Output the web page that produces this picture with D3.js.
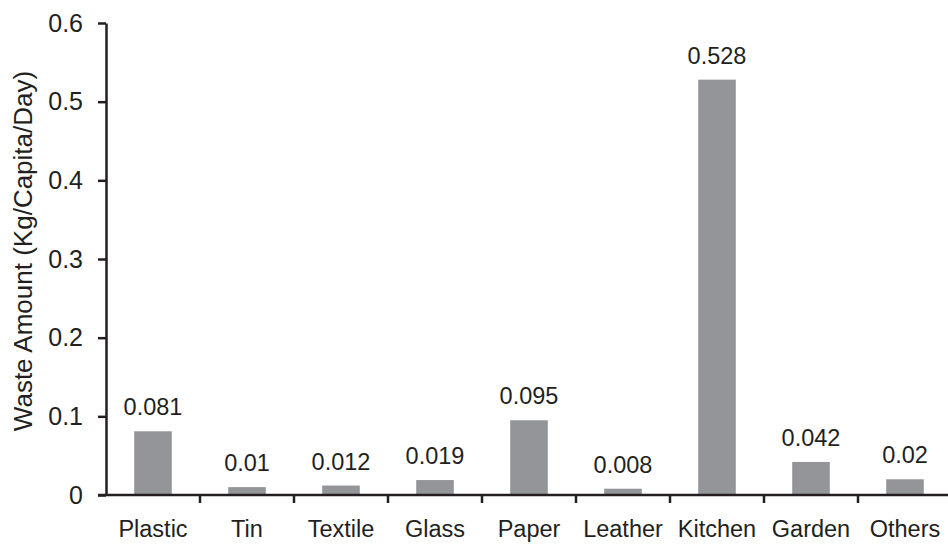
<!DOCTYPE html>
<html>
<head>
<meta charset="utf-8">
<script src="https://cdn.jsdelivr.net/npm/d3@7"></script>
<style>
  html, body { margin: 0; padding: 0; background: #fff; }
  svg { display: block; }
  text { font-family: "Liberation Sans", Arial, sans-serif; fill: #231f20; }
</style>
</head>
<body>
<svg id="chart" width="948" height="545"></svg>
<script>
// Per-capita daily waste by component
const categories = ["Plastic", "Tin", "Textile", "Glass", "Paper", "Leather", "Kitchen", "Garden", "Others"];
const values = [0.081, 0.01, 0.012, 0.019, 0.095, 0.008, 0.528, 0.042, 0.02];
const valueLabels = ["0.081", "0.01", "0.012", "0.019", "0.095", "0.008", "0.528", "0.042", "0.02"];
const yTicks = [0, 0.1, 0.2, 0.3, 0.4, 0.5, 0.6];
const yTitle = "Waste Amount (Kg/Capita/Day)";

(function draw() {
  const svg = d3.select("#chart");
  const m = { left: 106, right: 952, top: 23, bottom: 495 };
  const ink = "#231f20";
  const fs = 23.5;

  const x = d3.scaleBand().domain(categories).range([m.left, m.right]).paddingInner(0.6).paddingOuter(0.3);
  const y = d3.scaleLinear().domain([0, 0.6]).range([m.bottom, m.top]);

  // Bars
  svg.append("g").selectAll("rect").data(values).join("rect")
    .attr("x", (d, i) => x(categories[i]))
    .attr("width", x.bandwidth())
    .attr("y", d => y(d))
    .attr("height", d => y(0) - y(d))
    .attr("fill", "#939598");

  // Value labels above bars
  svg.append("g").selectAll("text").data(values).join("text")
    .attr("x", (d, i) => x(categories[i]) + x.bandwidth() / 2)
    .attr("y", d => y(d) - 16)
    .attr("text-anchor", "middle")
    .attr("font-size", fs)
    .text((d, i) => valueLabels[i]);

  // Y axis
  const yAxis = svg.append("g").attr("transform", `translate(${m.left},0)`)
    .call(d3.axisLeft(y).tickValues(yTicks).tickFormat(d => d === 0 ? "0" : d3.format(".1f")(d)).tickSize(8).tickSizeOuter(0).tickPadding(15));
  yAxis.select(".domain").attr("stroke", ink).attr("stroke-width", 2.5);
  yAxis.selectAll(".tick line").attr("stroke", ink).attr("stroke-width", 2.5);
  yAxis.selectAll(".tick text").attr("font-size", 25).attr("fill", ink)
    .attr("font-family", "'Liberation Sans', Arial, sans-serif");

  // X axis: ticks sit on band boundaries
  const xAxisG = svg.append("g").attr("transform", `translate(0,${m.bottom})`);
  xAxisG.append("line")
    .attr("x1", m.left - 8).attr("x2", 948)
    .attr("y1", 0).attr("y2", 0)
    .attr("stroke", ink).attr("stroke-width", 2.5);
  const step = x.step();
  const boundaries = categories.slice(1).map(c => x(c) - step * x.paddingInner() / 2);
  xAxisG.selectAll("line.tk").data(boundaries).join("line")
    .attr("class", "tk")
    .attr("x1", d => d).attr("x2", d => d)
    .attr("y1", 0).attr("y2", 8)
    .attr("stroke", ink).attr("stroke-width", 2.5);
  xAxisG.selectAll("text").data(categories).join("text")
    .attr("x", d => x(d) + x.bandwidth() / 2)
    .attr("y", 42)
    .attr("text-anchor", "middle")
    .attr("font-size", fs)
    .text(d => d);

  // Y axis title
  svg.append("text")
    .attr("transform", `translate(32,251) rotate(-90)`)
    .attr("text-anchor", "middle")
    .attr("font-size", 26)
    .text(yTitle);
})();
</script>
</body>
</html>
